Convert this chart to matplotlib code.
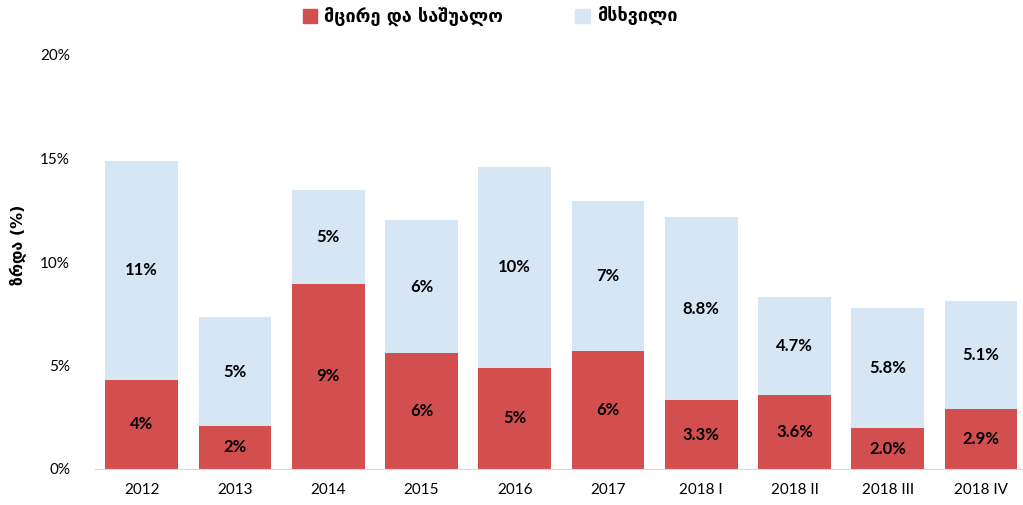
import matplotlib
matplotlib.use("Agg")
import matplotlib.pyplot as plt
from matplotlib.patches import Patch

categories = ["2012", "2013", "2014", "2015", "2016", "2017", "2018 I", "2018 II", "2018 III", "2018 IV"]
small_medium = [4.3, 2.08, 8.94, 5.6, 4.88, 5.7, 3.33, 3.57, 1.98, 2.9]
large = [10.58, 5.26, 4.54, 6.43, 9.71, 7.25, 8.84, 4.74, 5.8, 5.2]
small_labels = ["4%", "2%", "9%", "6%", "5%", "6%", "3.3%", "3.6%", "2.0%", "2.9%"]
large_labels = ["11%", "5%", "5%", "6%", "10%", "7%", "8.8%", "4.7%", "5.8%", "5.1%"]
yticks = [0, 5, 10, 15, 20]
ytick_labels = ["0%", "5%", "10%", "15%", "20%"]
series_names = ["მცირე და საშუალო", "მსხვილი"]

RED = "#D34E4F"
BLUE = "#D7E6F5"
FAM = ["Lato", "DejaVu Sans"]
plt.rcParams["font.family"] = FAM

fig = plt.figure(figsize=(10.23, 5.05), dpi=100)
ax = fig.add_axes([95 / 1023, 1 - 469 / 505, (1023 - 95) / 1023, (469 - 55) / 505])

x = list(range(len(categories)))
b1 = ax.bar(x, small_medium, width=0.78, color=RED)
b2 = ax.bar(x, large, width=0.78, bottom=small_medium, color=BLUE)

for i in x:
    ax.text(i, small_medium[i] / 2, small_labels[i], ha="center", va="center",
            fontsize=12, fontweight="bold", color="black")
    ax.text(i, small_medium[i] + large[i] / 2, large_labels[i], ha="center", va="center",
            fontsize=12, fontweight="bold", color="black")

ax.set_xlim(-0.5, 9.45)
ax.set_ylim(0, 20)
ax.set_yticks(yticks)
ax.set_yticklabels(ytick_labels, fontsize=11)
ax.set_xticks(x)
ax.set_xticklabels(categories, fontsize=11)
ax.tick_params(axis="both", length=0)
ax.tick_params(axis="y", pad=18)
ax.tick_params(axis="x", pad=10)
for s in ["top", "right", "left"]:
    ax.spines[s].set_visible(False)
ax.spines["bottom"].set_color("#D9D9D9")

fig.text(18 / 1023, 1 - 245 / 505, "ზრდა (%)", rotation=90, ha="center", va="center",
         fontsize=11.5, fontweight="bold", family=["DejaVu Sans"])

handles = [Patch(color=RED), Patch(color=BLUE)]
fig.legend(handles, series_names, loc="center", bbox_to_anchor=(490 / 1023, 1 - 17 / 505),
           ncol=2, frameon=False, handlelength=0.8, handleheight=0.8,
           handletextpad=0.4, columnspacing=4,
           prop={"family": ["DejaVu Sans"], "size": 13, "weight": "bold"})

fig.savefig("out.png", dpi=100)
